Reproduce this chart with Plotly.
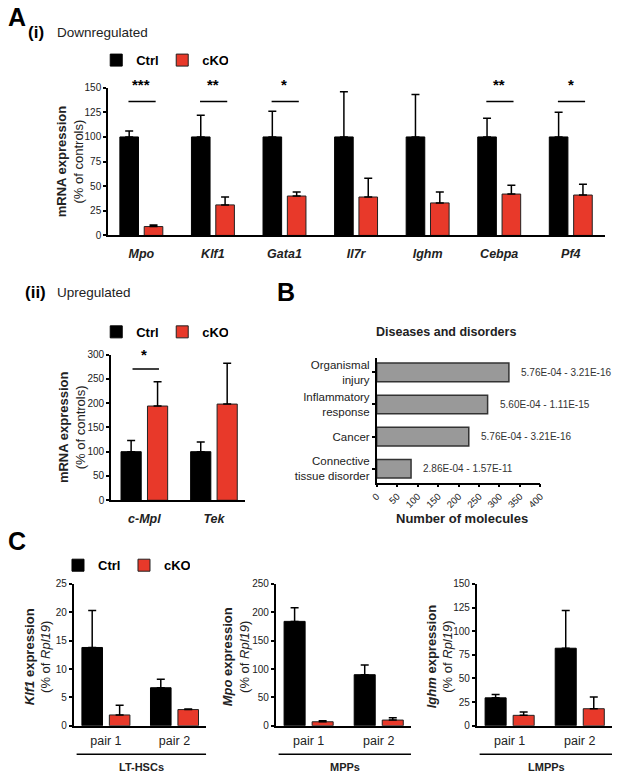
import plotly.graph_objects as go

W, H = 617, 779
RED = '#E8392A'
FONT = 'Liberation Sans, Arial, sans-serif'

# panel A(i)
genes_down = ['Mpo', 'Klf1', 'Gata1', 'Il7r', 'Ighm', 'Cebpa', 'Pf4']
ctrl_down = [100, 100, 100, 100, 100, 100, 100]
ctrl_down_err = [6, 22, 26, 46, 43, 19, 25]
cko_down = [9, 31, 40, 39, 33, 42, 41]
cko_down_err = [1.5, 8, 4, 19, 11, 9, 11]
sig_down = ['***', '**', '*', '', '', '**', '*']

# panel A(ii)
genes_up = ['c-Mpl', 'Tek']
ctrl_up = [100, 100]
ctrl_up_err = [23, 20]
cko_up = [194, 198]
cko_up_err = [50, 84]
sig_up = ['*', '']

# panel B
diseases = ['Organismal<br>injury', 'Inflammatory<br>response', 'Cancer',
            'Connective<br>tissue disorder']
n_molecules = [323, 271, 225, 84]
p_ranges = ['5.76E-04 - 3.21E-16', '5.60E-04 - 1.11E-15',
            '5.76E-04 - 3.21E-16', '2.86E-04 - 1.57E-11']

# panel C
pairs = ['pair 1', 'pair 2']
c_genes = ['Klf1', 'Mpo', 'Ighm']
c_cells = ['LT-HSCs', 'MPPs', 'LMPPs']
c_ctrl = [[13.8, 6.7], [184, 90], [29.5, 82]]
c_ctrl_err = [[6.5, 1.5], [24, 17], [3.5, 40]]
c_cko = [[1.9, 2.85], [7, 10], [11, 18]]
c_cko_err = [[1.7, 0.1], [2, 4], [3.5, 12.5]]
c_ymax = [25, 250, 150]
c_dtick = [5, 50, 25]


def px(x):
    return x / W


def py(y):
    return 1 - y / H


def err(vals):
    return dict(type='data', array=vals, arrayminus=[0] * len(vals), symmetric=False,
                color='black', thickness=1.5, width=4)


fig = go.Figure()


def add_pair(xa, ya, cats, ctrl, ctrl_e, cko, cko_e, width, offs, legend=None):
    show = legend is not None
    fig.add_trace(go.Bar(x=cats, y=ctrl, error_y=err(ctrl_e), width=width, offset=offs[0],
                         marker=dict(color='black', line=dict(color='black', width=1)),
                         name='<b>Ctrl</b>', xaxis=xa, yaxis=ya, showlegend=show,
                         legend=legend or 'legend'))
    fig.add_trace(go.Bar(x=cats, y=cko, error_y=err(cko_e), width=width, offset=offs[1],
                         marker=dict(color=RED, line=dict(color='#222', width=1)),
                         name='<b>cKO</b>', xaxis=xa, yaxis=ya, showlegend=show,
                         legend=legend or 'legend'))


add_pair('x', 'y', genes_down, ctrl_down, ctrl_down_err, cko_down, cko_down_err,
         0.26, (-0.30, 0.04), 'legend')
add_pair('x2', 'y2', genes_up, ctrl_up, ctrl_up_err, cko_up, cko_up_err,
         0.29, (-0.335, 0.045), 'legend2')

fig.add_trace(go.Bar(x=n_molecules, y=diseases, orientation='h', width=0.58,
                     marker=dict(color='#999999', line=dict(color='#333', width=1.5)),
                     xaxis='x3', yaxis='y3', showlegend=False))

for k in range(3):
    add_pair('x%d' % (k + 4), 'y%d' % (k + 4), pairs, c_ctrl[k], c_ctrl_err[k],
             c_cko[k], c_cko_err[k], 0.3, (-0.35, 0.05), 'legend3' if k == 0 else None)

axis = dict(showline=True, linecolor='black', linewidth=1.5, showgrid=False, zeroline=False,
            tickcolor='black', tickwidth=1.5, ticklen=3, tickfont=dict(size=10, color='#222'))

fig.update_layout(
    width=W, height=H, margin=dict(l=0, r=0, t=0, b=0),
    paper_bgcolor='white', plot_bgcolor='white', barmode='overlay',
    font=dict(family=FONT, color='black'),
    xaxis=dict(axis, domain=[px(103), px(610)], anchor='y', range=[-0.466, 6.48], ticks='',
               tickvals=genes_down, ticktext=['<b><i>%s</i></b>' % g for g in genes_down],
               tickfont=dict(size=12.5, color='#222'), ticklabelstandoff=6),
    yaxis=dict(axis, domain=[py(233), py(83)], anchor='x', range=[0, 150], dtick=25,
               ticks='outside'),
    xaxis2=dict(axis, domain=[px(106), px(243)], anchor='y2', range=[-0.48, 1.45], ticks='',
                tickvals=genes_up, ticktext=['<b><i>%s</i></b>' % g for g in genes_up],
                tickfont=dict(size=12.5, color='#222'), ticklabelstandoff=6),
    yaxis2=dict(axis, domain=[py(502), py(354)], anchor='x2', range=[0, 300], dtick=50,
                ticks='outside'),
    xaxis3=dict(axis, domain=[px(377), px(544)], anchor='y3', range=[0, 400], dtick=50,
                ticks='outside', tickangle=-45, tickfont=dict(size=9.5, color='#222')),
    yaxis3=dict(axis, domain=[py(484), py(358)], anchor='x3', range=[3.43, -0.43],
                ticks='outside', tickfont=dict(size=11.5, color='#222')),
)

c_dom = [(68, 203), (274, 412), (479, 617)]
for k in range(3):
    fig.update_layout({
        'xaxis%d' % (k + 4): dict(axis, domain=[px(c_dom[k][0]), px(c_dom[k][1])],
                                  anchor='y%d' % (k + 4), range=[-0.47, 1.46], ticks='',
                                  tickfont=dict(size=12.5, color='#222'), ticklabelstandoff=3),
        'yaxis%d' % (k + 4): dict(axis, domain=[py(731), py(587)], anchor='x%d' % (k + 4),
                                  range=[0, c_ymax[k]], dtick=c_dtick[k], ticks='outside'),
    })

leg = dict(orientation='h', xanchor='left', yanchor='middle', bgcolor='rgba(0,0,0,0)',
           font=dict(size=13, color='black'), entrywidth=21, entrywidthmode='pixels',
           itemclick=False)
fig.update_layout(
    legend=dict(leg, x=px(91), y=py(55)),
    legend2=dict(leg, x=px(91), y=py(331)),
    legend3=dict(leg, x=px(52), y=py(568)),
)

ann = []


def text(x, y, t, size, **kw):
    d = dict(x=px(x), y=py(y), xref='paper', yref='paper', text=t, showarrow=False,
             font=dict(size=size, color=kw.pop('color', 'black')),
             xanchor=kw.pop('xanchor', 'left'), yanchor='middle')
    d.update(kw)
    ann.append(d)


text(-1, 11, '<b>A</b>', 25)
text(19, 27, '<b>(i)</b>', 17)
text(49, 27, 'Downregulated', 13.5, color='#222')
text(16, 291, '<b>(ii)</b>', 17)
text(49, 291, 'Upregulated', 13.5, color='#222')
text(273, 290, '<b>B</b>', 25)
text(-1, 543, '<b>C</b>', 25)
text(448, 331, '<b>Diseases and disorders</b>', 12.5, xanchor='center', color='#222')
text(464, 521, '<b>Number of molecules</b>', 13, xanchor='center', color='#222')

# y axis titles
text(64, 158, '<b>mRNA expression</b><br>(% of controls)', 13, xanchor='center',
     textangle=-90, color='#222')
text(67, 428, '<b>mRNA expression</b><br>(% of controls)', 13, xanchor='center',
     textangle=-90, color='#222')
c_title_x = [31, 233, 441]
for k in range(3):
    text(c_title_x[k], 661, '<b><i>%s</i> expression</b><br>(%% of <i>Rpl19</i>)' % c_genes[k],
         13, xanchor='center', textangle=-90, color='#222')
    text((c_dom[k][0] + c_dom[k][1]) / 2 + 2, 773, '<b>%s</b>' % c_cells[k], 11,
         xanchor='center', color='#222')

# p-value labels on panel B
for n, d, p in zip(n_molecules, diseases, p_ranges):
    ann.append(dict(x=n, y=d, xref='x3', yref='y3', text=p, showarrow=False, xanchor='left',
                    xshift=10, font=dict(size=10, color='#333')))

# significance stars
shapes = []
for i, s in enumerate(sig_down):
    if s:
        ann.append(dict(x=i, y=150, yshift=3, xref='x', yref='y', text='<b>%s</b>' % s,
                        showarrow=False, font=dict(size=15), yanchor='middle'))
        shapes.append(dict(type='line', xref='x', yref='y', x0=i - 0.18, x1=i + 0.2,
                           y0=136, y1=136, line=dict(color='black', width=1.5)))
for i, s in enumerate(sig_up):
    if s:
        ann.append(dict(x=i, y=300, xref='x2', yref='y2', text='<b>%s</b>' % s,
                        showarrow=False, font=dict(size=15), yanchor='middle'))
        shapes.append(dict(type='line', xref='x2', yref='y2', x0=i - 0.17, x1=i + 0.21,
                           y0=270, y1=270, line=dict(color='black', width=1.5)))

# group lines under panel C
for k in range(3):
    shapes.append(dict(type='line', xref='paper', yref='paper', x0=px(c_dom[k][0] + 3),
                       x1=px(c_dom[k][1]), y0=py(760), y1=py(760),
                       line=dict(color='black', width=1.5)))

fig.update_layout(annotations=ann, shapes=shapes)

fig.write_html("out.html", config={'displayModeBar': False},
               post_script="document.body.style.margin='0px';")
